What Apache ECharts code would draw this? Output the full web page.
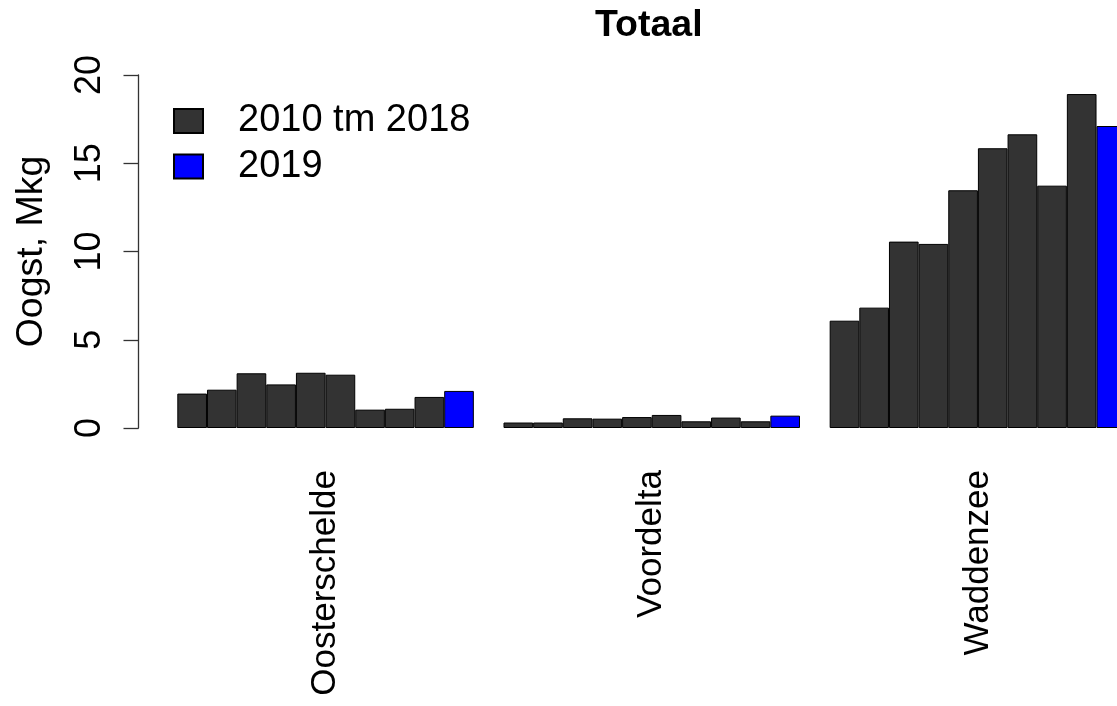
<!DOCTYPE html>
<html>
<head>
<meta charset="utf-8">
<script src="https://cdn.jsdelivr.net/npm/echarts@6/dist/echarts.min.js"></script>
<style>html,body{margin:0;padding:0;background:#fff;overflow:hidden;width:1117px;height:706px}#c{width:1141px;height:706px}</style>
</head>
<body>
<div id="c"></div>
<script>
const years = ['2010','2011','2012','2013','2014','2015','2016','2017','2018','2019'];
const regions = ['Oosterschelde','Voordelta','Waddenzee'];
const oosterschelde = [1.95, 2.17, 3.10, 2.47, 3.13, 3.02, 1.04, 1.09, 1.76, 2.10];
const voordelta = [0.31, 0.31, 0.55, 0.53, 0.62, 0.74, 0.38, 0.59, 0.38, 0.70];
const waddenzee = [6.08, 6.82, 10.56, 10.43, 13.47, 15.85, 16.64, 13.73, 18.92, 17.11];
const legendNames = ['2010 tm 2018', '2019'];
const yTicks = [0, 5, 10, 15, 20];

const FONT = 'Liberation Sans, Arial, sans-serif';
const series = years.map((y, i) => ({
  type: 'bar',
  name: i < 9 ? legendNames[0] : legendNames[1],
  data: [oosterschelde[i], voordelta[i], waddenzee[i]],
  barGap: '0%',
  barCategoryGap: '9.0909%',
  itemStyle: { color: i < 9 ? '#333333' : '#0000ff', borderColor: '#000', borderWidth: 1 },
  emphasis: { disabled: true }
}));

const chart = echarts.init(document.getElementById('c'), null, { renderer: 'canvas', width: 1141, height: 706 });
chart.setOption({
  animation: false,
  backgroundColor: '#fff',
  title: {
    text: 'Totaal', left: 595, top: 7, padding: 0,
    textStyle: { fontFamily: FONT, fontSize: 37.5, fontWeight: 'bold', color: '#000' }
  },
  legend: {
    data: legendNames, orient: 'vertical', left: 173, top: 101, padding: 0,
    icon: 'rect', itemWidth: 29, itemHeight: 24, itemGap: 5.5,
    textStyle: { fontFamily: FONT, fontSize: 38, color: '#000', lineHeight: 40, padding: [0, 0, 0, 30] },
    selectedMode: false
  },
  grid: { left: 162.5, right: 0, top: 75, bottom: 278, containLabel: false, outerBoundsMode: 'none' },
  xAxis: {
    type: 'category', data: regions,
    axisLine: { show: false }, axisTick: { show: false },
    axisLabel: { rotate: 90, margin: 42, fontFamily: FONT, fontSize: 35, color: '#000' }
  },
  yAxis: {
    type: 'value', min: yTicks[0], max: yTicks[yTicks.length - 1], interval: 5, offset: 24,
    name: 'Oogst, Mkg', nameLocation: 'middle', nameGap: 88,
    nameTextStyle: { fontFamily: FONT, fontSize: 37.5, color: '#000' },
    splitLine: { show: false },
    axisLine: { show: true, lineStyle: { color: '#333', width: 1.3 } },
    axisTick: { show: true, length: 15, lineStyle: { color: '#333', width: 1.3 } },
    axisLabel: { rotate: 90, margin: 30, fontFamily: FONT, fontSize: 36, color: '#000' }
  },
  series: series
});
</script>
</body>
</html>
